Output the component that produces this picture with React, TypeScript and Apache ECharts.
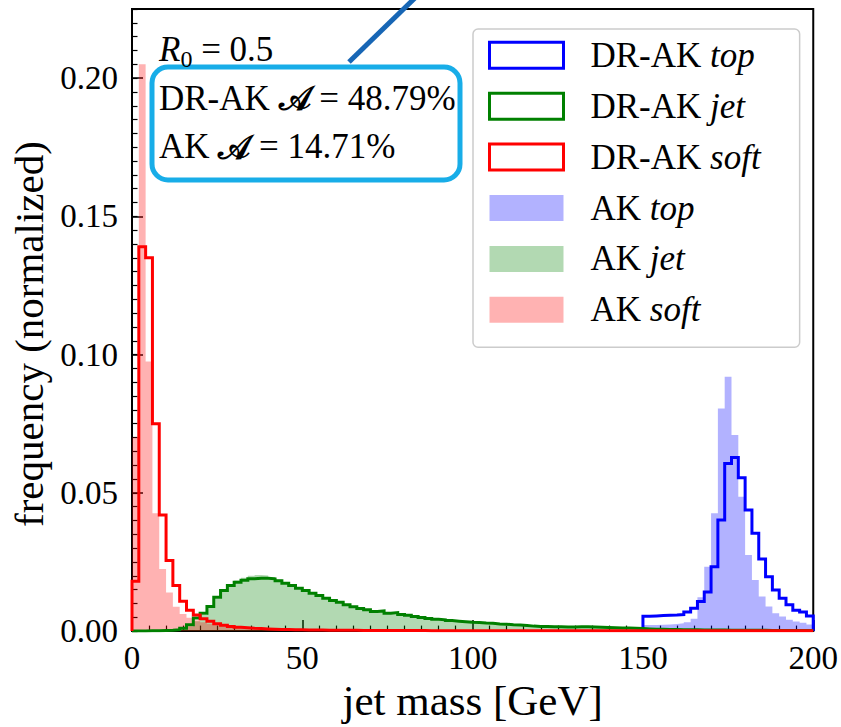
import { useEffect, useRef } from "react";
import * as echarts from "echarts";

// Histogram binning (GeV)
const BIN_WIDTH = 2;
const FULL_RANGE_START = 0;
const TOP_RANGE_START = 150;

// Axis ranges and ticks
const X_MIN = 0;
const X_MAX = 200;
const X_MAJOR = 50;
const Y_MIN = 0;
const Y_MAX = 0.225;
const Y_MAJOR = 0.05;
const Y_MINOR = 0.005;

// DR-AK soft (outline), bins from 0 to 200 GeV
const drakSoft = [
  0.018, 0.139, 0.135, 0.075, 0.042, 0.0255, 0.0165, 0.0108, 0.0075, 0.0058,
  0.0045, 0.0036, 0.0027, 0.0021, 0.0017, 0.0014, 0.0012, 0.001, 0.0009, 0.0008,
  0.0007, 0.0006, 0.0006, 0.0005, 0.0005, 0.0004, 0.0004, 0.0004, 0.0003, 0.0003,
  0.0003, 0.0003, 0.0003, 0.0002, 0.0002, 0.0002, 0.0002, 0.0002, 0.0002, 0.0002,
  0.0002, 0.0002, 0.0002, 0.0001, 0.0001, 0.0001, 0.0001, 0.0001, 0.0001, 0.0001,
  0.0001, 0.0001, 0.0001, 0.0001, 0.0001, 0.0001, 0.0001, 0.0001, 0.0001, 0.0001,
  0.0001, 0.0001, 0.0001, 0.0001, 0.0001, 0.0001, 0.0001, 0.0001, 0.0001, 0.0001,
  0.0001, 0.0001, 0.0001, 0.0001, 0.0001, 0.0001, 0.0001, 0.0001, 0.0001, 0.0001,
  0.0001, 0.0001, 0.0001, 0.0001, 0.0001, 0.0001, 0.0001, 0.0001, 0.0001, 0.0001,
  0.0001, 0.0001, 0.0001, 0.0001, 0.0001, 0.0001, 0.0001, 0.0001, 0.0001, 0.0001,
];

// AK soft (filled), bins from 0 to 200 GeV
const akSoft = [
  0.07, 0.205, 0.0975, 0.0426, 0.0225, 0.014, 0.0088, 0.0062, 0.0048, 0.0039,
  0.0032, 0.0027, 0.0022, 0.0018, 0.0015, 0.0012, 0.001, 0.0009, 0.0008, 0.0007,
  0.0006, 0.0005, 0.0005, 0.0004, 0.0004, 0.0003, 0.0003, 0.0003, 0.0002, 0.0002,
  0.0002, 0.0002, 0.0002, 0.0002, 0.0001, 0.0001, 0.0001, 0.0001, 0.0001, 0.0001,
  0.0001, 0.0001, 0.0001, 0.0001, 0.0001, 0.0001, 0.0001, 0.0001, 0.0001, 0.0001,
  0.0001, 0.0001, 0.0001, 0.0001, 0.0001, 0.0001, 0.0001, 0.0001, 0.0001, 0.0001,
  0.0001, 0.0001, 0.0001, 0.0001, 0.0001, 0.0001, 0.0001, 0.0001, 0.0001, 0.0001,
  0.0001, 0.0001, 0.0001, 0.0001, 0.0001, 0.0001, 0.0001, 0.0001, 0.0001, 0.0001,
  0.0001, 0.0001, 0.0001, 0.0001, 0.0001, 0.0001, 0.0001, 0.0001, 0.0001, 0.0001,
  0.0001, 0.0001, 0.0001, 0.0001, 0.0001, 0.0001, 0.0001, 0.0001, 0.0001, 0.0001,
];

// DR-AK jet (outline), bins from 0 to 200 GeV
const drakJet = [
  0, 0, 0.0001, 0.0001, 0.0002, 0.0003, 0.0005, 0.001, 0.0023, 0.0047,
  0.0065, 0.0089, 0.0122, 0.0147, 0.0165, 0.0177, 0.0184, 0.0189, 0.0191, 0.0191,
  0.0189, 0.0182, 0.0173, 0.0165, 0.0155, 0.0147, 0.0137, 0.0129, 0.0119, 0.0111,
  0.0104, 0.0095, 0.0088, 0.0082, 0.0077, 0.0071, 0.0073, 0.0065, 0.0067, 0.006,
  0.0057, 0.0053, 0.0049, 0.0046, 0.0043, 0.0041, 0.0038, 0.0036, 0.0034, 0.0032,
  0.0031, 0.0029, 0.0028, 0.0026, 0.0025, 0.0023, 0.0022, 0.002, 0.0018, 0.0017,
  0.0017, 0.0016, 0.0016, 0.0015, 0.0015, 0.0016, 0.0016, 0.0015, 0.0014, 0.0013,
  0.0012, 0.0011, 0.0011, 0.001, 0.0009, 0.0008, 0.0007, 0.0007, 0.0006, 0.0006,
  0.0005, 0.0005, 0.0005, 0.0004, 0.0004, 0.0004, 0.0004, 0.0003, 0.0003, 0.0003,
  0.0003, 0.0003, 0.0003, 0.0002, 0.0002, 0.0002, 0.0002, 0.0002, 0.0002, 0.0002,
];

// AK jet (filled), bins from 0 to 200 GeV
const akJet = [
  0, 0, 0, 0.0001, 0.0001, 0.0002, 0.0003, 0.0008, 0.0017, 0.0036,
  0.0058, 0.0084, 0.0118, 0.0147, 0.0168, 0.0183, 0.0193, 0.02, 0.0203, 0.0201,
  0.0196, 0.0187, 0.0177, 0.0167, 0.0157, 0.0148, 0.0138, 0.0128, 0.0119, 0.011,
  0.0102, 0.0094, 0.0087, 0.0081, 0.0076, 0.0071, 0.0069, 0.0066, 0.0063, 0.006,
  0.0057, 0.0053, 0.005, 0.0046, 0.0043, 0.004, 0.0038, 0.0036, 0.0034, 0.0032,
  0.003, 0.0029, 0.0027, 0.0026, 0.0024, 0.0023, 0.0021, 0.002, 0.0019, 0.0018,
  0.0017, 0.0016, 0.0016, 0.0015, 0.0015, 0.0015, 0.0015, 0.0014, 0.0013, 0.0012,
  0.0011, 0.0011, 0.001, 0.0009, 0.0009, 0.0008, 0.0007, 0.0007, 0.0006, 0.0006,
  0.0005, 0.0005, 0.0005, 0.0004, 0.0004, 0.0004, 0.0003, 0.0003, 0.0003, 0.0003,
  0.0003, 0.0003, 0.0002, 0.0002, 0.0002, 0.0002, 0.0002, 0.0002, 0.0002, 0.0002,
];

// DR-AK top (outline), bins from 150 to 200 GeV
const drakTop = [
  0.0054, 0.0055, 0.0056, 0.0057, 0.0058, 0.006, 0.0069, 0.0083, 0.0107, 0.0141,
  0.0233, 0.0402, 0.0606, 0.0628, 0.0555, 0.0438, 0.0354, 0.0261, 0.0197, 0.0149,
  0.0119, 0.0095, 0.0075, 0.0069, 0.0055,
];

// AK top (filled), bins from 150 to 200 GeV
const akTop = [
  0.0022, 0.0022, 0.0023, 0.0024, 0.0026, 0.0028, 0.0032, 0.0045, 0.0122, 0.0233,
  0.0426, 0.0805, 0.092, 0.0709, 0.0486, 0.0275, 0.0185, 0.0125, 0.0089, 0.0065,
  0.0053, 0.0041, 0.0035, 0.003, 0.0024,
];

// Legend entries: plain prefix + italic class name
const legendNames = ["DR-AK top", "DR-AK jet", "DR-AK soft", "AK top", "AK jet", "AK soft"];
const legendParts: Record<string, [string, string]> = {
  "DR-AK top": ["DR-AK ", "top"],
  "DR-AK jet": ["DR-AK ", "jet"],
  "DR-AK soft": ["DR-AK ", "soft"],
  "AK top": ["AK ", "top"],
  "AK jet": ["AK ", "jet"],
  "AK soft": ["AK ", "soft"],
};

// Annotation texts
const radiusLabel = ["R", "0", " = 0.5"];
const accuracyRows = [
  ["DR-AK ", "𝒜", " = 48.79%"],
  ["AK ", "𝒜", " = 14.71%"],
];

const FONT = "'Liberation Serif', 'DejaVu Serif', serif";
const BLUE = "#0000ff";
const GREEN = "#008000";
const RED = "#ff0000";

// Edge points of a step histogram, closed down to the baseline at both ends
function stepPoints(start: number, values: number[]): number[][] {
  const pts: number[][] = [[start, 0]];
  values.forEach((v, i) => pts.push([start + i * BIN_WIDTH, v]));
  pts.push([start + values.length * BIN_WIDTH, 0]);
  return pts;
}

function outlineSeries(name: string, start: number, values: number[], color: string) {
  return {
    type: "line",
    name,
    data: stepPoints(start, values),
    step: "end",
    symbol: "none",
    silent: true,
    z: 3,
    lineStyle: { color, width: 3, join: "miter" },
    itemStyle: { color },
  };
}

function filledSeries(name: string, start: number, values: number[], color: string) {
  return {
    type: "line",
    name,
    data: stepPoints(start, values),
    step: "end",
    symbol: "none",
    silent: true,
    z: 2,
    lineStyle: { width: 0 },
    areaStyle: { color, opacity: 1 },
    itemStyle: { color },
  };
}

const legendIconStyle: Record<string, any> = {
  "DR-AK top": { color: "#ffffff", borderColor: BLUE, borderWidth: 3, opacity: 1 },
  "DR-AK jet": { color: "#ffffff", borderColor: GREEN, borderWidth: 3, opacity: 1 },
  "DR-AK soft": { color: "#ffffff", borderColor: RED, borderWidth: 3, opacity: 1 },
  "AK top": { color: "rgba(0,0,255,0.3)", borderWidth: 0, opacity: 1 },
  "AK jet": { color: "rgba(0,128,0,0.3)", borderWidth: 0, opacity: 1 },
  "AK soft": { color: "rgba(255,0,0,0.3)", borderWidth: 0, opacity: 1 },
};

export default function App() {
  const ref = useRef<HTMLDivElement>(null);

  useEffect(() => {
    if (!ref.current) return;
    const chart = echarts.init(ref.current, null, { renderer: "svg" });

    const axisLine = { show: true, onZero: false, lineStyle: { color: "#000", width: 2 } };
    const labelStyle = { color: "#000", fontFamily: FONT, fontSize: 33 };

    const option: any = {
      animation: false,
      backgroundColor: "#ffffff",
      grid: {
        left: 132,
        top: 9,
        width: 686,
        height: 625,
        show: true,
        borderColor: "#000",
        borderWidth: 2,
        backgroundColor: "transparent",
      },
      xAxis: {
        type: "value",
        min: X_MIN,
        max: X_MAX,
        interval: X_MAJOR,
        axisLine,
        axisTick: { show: true, inside: true, length: 11, lineStyle: { color: "#000", width: 1.5 } },
        minorTick: { show: true, splitNumber: 10, length: 5.5, lineStyle: { color: "#000", width: 1.2 } },
        axisLabel: { ...labelStyle, margin: 10 },
        splitLine: { show: false },
        minorSplitLine: { show: false },
        name: "jet mass [GeV]",
        nameLocation: "middle",
        nameGap: 36,
        nameTextStyle: { color: "#000", fontFamily: FONT, fontSize: 43 },
      },
      yAxis: [
        {
          type: "value",
          min: Y_MIN,
          max: Y_MAX,
          interval: Y_MAJOR,
          position: "left",
          axisLine,
          axisTick: { show: true, inside: true, length: 11, lineStyle: { color: "#000", width: 1.5 } },
          axisLabel: {
            ...labelStyle,
            margin: 14,
            showMaxLabel: false,
            formatter: (v: number) => v.toFixed(2),
          },
          splitLine: { show: false },
          name: "frequency (normalized)",
          nameLocation: "middle",
          nameGap: 80,
          nameTextStyle: { color: "#000", fontFamily: FONT, fontSize: 41, padding: [0, 28, 0, 0] },
        },
        {
          // minor ticks every 0.005 up to the top of the frame
          type: "value",
          min: Y_MIN,
          max: Y_MAX,
          interval: Y_MINOR,
          position: "left",
          axisLine: { show: false },
          axisTick: { show: true, inside: true, length: 5.5, lineStyle: { color: "#000", width: 1.2 } },
          axisLabel: { show: false },
          splitLine: { show: false },
        },
      ],
      legend: {
        orient: "vertical",
        left: 473,
        top: 29,
        padding: [8.8, 39, 20, 15],
        itemWidth: 74,
        itemHeight: 26,
        itemGap: 15.9,
        selectedMode: false,
        backgroundColor: "rgba(255,255,255,0.8)",
        borderColor: "#cccccc",
        borderWidth: 1.5,
        borderRadius: 5,
        data: legendNames.map((name) => ({ name, icon: "rect", itemStyle: legendIconStyle[name] })),
        formatter: (name: string) => {
          const [a, b] = legendParts[name];
          return `{n|${a}}{i|${b}}`;
        },
        textStyle: {
          color: "#000",
          fontFamily: FONT,
          fontSize: 35,
          rich: {
            n: { color: "#000", fontFamily: FONT, fontSize: 35, lineHeight: 26, padding: [0, 0, 0, 22] },
            i: { color: "#000", fontFamily: FONT, fontSize: 35, lineHeight: 26, fontStyle: "italic" },
          },
        },
      },
      graphic: [
        {
          type: "line",
          z: 20,
          shape: { x1: 349, y1: 62, x2: 418, y2: -5 },
          style: { stroke: "#1766b5", lineWidth: 5 },
        },
        {
          type: "rect",
          z: 20,
          shape: { x: 152, y: 67, width: 308, height: 113, r: 16 },
          style: { fill: "none", stroke: "#18ade8", lineWidth: 5 },
        },
        {
          type: "text",
          z: 21,
          x: 159,
          y: 49,
          style: {
            text: `{i|${radiusLabel[0]}}{s|${radiusLabel[1]}}{n|${radiusLabel[2]}}`,
            verticalAlign: "middle",
            rich: {
              i: { fontFamily: FONT, fontSize: 35, fontStyle: "italic", lineHeight: 44, fill: "#000" },
              s: { fontFamily: FONT, fontSize: 24, lineHeight: 23, verticalAlign: "bottom", fill: "#000" },
              n: { fontFamily: FONT, fontSize: 35, lineHeight: 44, fill: "#000" },
            },
          },
        },
        ...accuracyRows.map((row, k) => ({
          type: "text",
          z: 21,
          x: 159,
          y: 98 + k * 48.5,
          style: {
            text: `{n|${row[0]}}{c|${row[1]}}{n|${row[2]}}`,
            verticalAlign: "middle",
            rich: {
              n: { fontFamily: FONT, fontSize: 35, fill: "#000" },
              c: { fontFamily: "'DejaVu Serif', serif", fontSize: 34, fontWeight: "bold", fill: "#000" },
            },
          },
        })),
      ],
      series: [
        filledSeries("AK top", TOP_RANGE_START, akTop, "rgba(0,0,255,0.3)"),
        filledSeries("AK jet", FULL_RANGE_START, akJet, "rgba(0,128,0,0.3)"),
        filledSeries("AK soft", FULL_RANGE_START, akSoft, "rgba(255,0,0,0.3)"),
        outlineSeries("DR-AK top", TOP_RANGE_START, drakTop, BLUE),
        outlineSeries("DR-AK jet", FULL_RANGE_START, drakJet, GREEN),
        outlineSeries("DR-AK soft", FULL_RANGE_START, drakSoft, RED),
      ],
    };

    chart.setOption(option);
    return () => chart.dispose();
  }, []);

  return (
    <div
      ref={ref}
      style={{ position: "fixed", left: 0, top: 0, width: 841, height: 727, background: "#fff" }}
    />
  );
}
